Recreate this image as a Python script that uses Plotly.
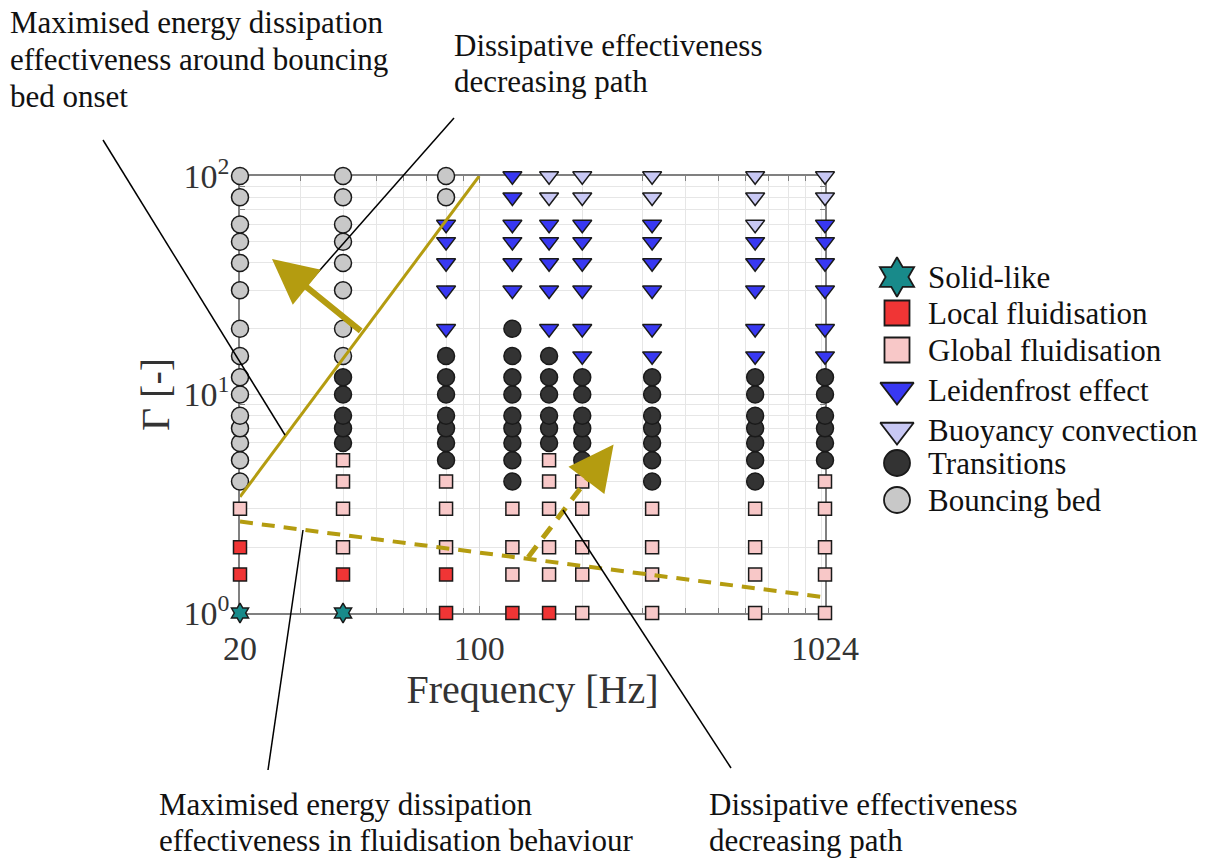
import math
import plotly.graph_objects as go

# ---------------- data ----------------
freqs = [20, 40, 80, 125, 160, 200, 320, 640, 1024]
gamma_levels = [1, 1.5, 2, 3, 4, 5, 6, 7, 8, 10, 12, 15, 20, 30, 40, 50, 60, 80, 100]
# regime code per gamma level (same order as gamma_levels), one string per frequency
regime_by_freq = {
    20:   "SLLGOOOOOOOOOOOOOOO",
    40:   "SLGGGGTTTTTOOOOOOOO",
    80:   "LLGGGTTTTTTTFFFFFOO",
    125:  "LGGGTTTTTTTTTFFFFFF",
    160:  "LGGGGGTTTTTTFFFFFBB",
    200:  "GGGGGTTTTTTFFFFFFBB",
    320:  "GGGGTTTTTTTFFFFFFBB",
    640:  "GGGGTTTTTTTFFFFFBBB",
    1024: "GGGGGTTTTTTFFFFFFBB",
}
regime_codes = ["S", "L", "G", "F", "B", "T", "O"]
regime_names = ["Solid-like", "Local fluidisation", "Global fluidisation",
                "Leidenfrost effect", "Buoyancy convection", "Transitions", "Bouncing bed"]

# boundary lines and arrows (frequency [Hz], Gamma [-])
bounce_line_f = [20, 100]
bounce_line_g = [3.4, 100]
fluid_line_f = [20, 1024]
fluid_line_g = [2.62, 1.18]
arrow1_tail = (45.5, 19.3)
arrow1_tip = (24.8, 41.7)
arrow2_tail = (139, 1.80)
arrow2_tip = (247, 5.9)

x_tick_vals = [20, 100, 1024]
x_tick_text = ["20", "100", "1024"]
y_tick_vals = [1, 10, 100]
y_tick_text = ["10<sup>0</sup>", "10<sup>1</sup>", "10<sup>2</sup>"]

# ---------------- styles / layout ----------------
FONT = "Liberation Serif, Times New Roman, serif"
OLIVE = "#B49C10"
styles = {
    "S": dict(symbol="hexagram", color="#188A8A", size=15, lsize=30),
    "L": dict(symbol="square", color="#F03535", size=13, lsize=25),
    "G": dict(symbol="square", color="#F8C8C8", size=13, lsize=25),
    "F": dict(symbol="triangle-down", color="#3838F2", size=16.5, lsize=29),
    "B": dict(symbol="triangle-down", color="#C8C8F4", size=16.5, lsize=29),
    "T": dict(symbol="circle", color="#333333", size=17, lsize=26),
    "O": dict(symbol="circle", color="#C8C8C8", size=17, lsize=26),
}

OFF = 8                      # page body margin of the html file
W, H = 1210 - OFF, 858 - OFF  # figure size
L, R, T, B = 240, 825, 176, 613  # plot area box in page pixels

# legend layout in page pixels
leg_marker_x = 897
leg_text_x = 926
leg_rows_y = [277, 313, 350, 390, 430, 463, 500]

fig = go.Figure()

for code, name in zip(regime_codes, regime_names):
    xs, ys = [], []
    for f in freqs:
        for g, c in zip(gamma_levels, regime_by_freq[f]):
            if c == code:
                xs.append(f)
                ys.append(g)
    st = styles[code]
    fig.add_trace(go.Scatter(
        x=xs, y=ys, mode="markers", name=name, cliponaxis=False, showlegend=False,
        marker=dict(symbol=st["symbol"], color=st["color"], size=st["size"],
                    line=dict(color="#1a1a1a", width=1.5)),
    ))

fig.add_trace(go.Scatter(x=bounce_line_f, y=bounce_line_g, mode="lines", showlegend=False,
                         line=dict(color=OLIVE, width=3)))
fig.add_trace(go.Scatter(x=fluid_line_f, y=fluid_line_g, mode="lines", showlegend=False,
                         line=dict(color=OLIVE, width=4, dash="13px,9px")))

# dashed arrow shaft
lx0, ly0 = math.log10(arrow2_tail[0]), math.log10(arrow2_tail[1])
lx1, ly1 = math.log10(arrow2_tip[0]), math.log10(arrow2_tip[1])
shaft_end = (10 ** (lx0 + 0.75 * (lx1 - lx0)), 10 ** (ly0 + 0.75 * (ly1 - ly0)))
fig.add_trace(go.Scatter(x=[arrow2_tail[0], shaft_end[0]], y=[arrow2_tail[1], shaft_end[1]],
                         mode="lines", showlegend=False,
                         line=dict(color=OLIVE, width=5, dash="14px,10px")))

# legend keys (drawn on a full-page overlay axis in page pixels)
for i, (code, name) in enumerate(zip(regime_codes, regime_names)):
    st = styles[code]
    fig.add_trace(go.Scatter(
        x=[leg_marker_x], y=[leg_rows_y[i]], xaxis="x2", yaxis="y2", mode="markers",
        showlegend=False, cliponaxis=False, hoverinfo="skip",
        marker=dict(symbol=st["symbol"], color=st["color"], size=st["lsize"],
                    line=dict(color="#1a1a1a", width=1.8)),
    ))

annotations = []
annotations.append(dict(
    x=math.log10(arrow1_tip[0]), y=math.log10(arrow1_tip[1]),
    ax=math.log10(arrow1_tail[0]), ay=math.log10(arrow1_tail[1]),
    xref="x", yref="y", axref="x", ayref="y", text="", showarrow=True,
    arrowhead=2, arrowsize=1.5, arrowwidth=6, arrowcolor=OLIVE))
annotations.append(dict(
    x=lx1, y=ly1,
    ax=lx0 + 0.78 * (lx1 - lx0), ay=ly0 + 0.78 * (ly1 - ly0),
    xref="x", yref="y", axref="x", ayref="y", text="", showarrow=True,
    arrowhead=2, arrowsize=1.8, arrowwidth=5, arrowcolor=OLIVE))


def text_line(s, X, Yc, size=31):
    annotations.append(dict(text=s, x=X, y=Yc, xref="x2", yref="y2",
                            xanchor="left", yanchor="middle", showarrow=False,
                            font=dict(family=FONT, size=size, color="#111111")))


text_line("Maximised energy dissipation", 8, 22)
text_line("effectiveness around bouncing", 8, 59)
text_line("bed onset", 8, 96)
text_line("Dissipative effectiveness", 452, 45)
text_line("decreasing path", 452, 81)
text_line("Maximised energy dissipation", 157, 804)
text_line("effectiveness in fluidisation behaviour", 157, 840)
text_line("Dissipative effectiveness", 707, 804)
text_line("decreasing path", 707, 840)

for i, name in enumerate(regime_names):
    text_line(name, leg_text_x, leg_rows_y[i], size=31)

shapes = []
for (X0, Y0, X1, Y1) in [(103, 140, 285, 435), (454, 118, 305, 287),
                         (268, 770, 303, 530), (563, 510, 731, 768)]:
    shapes.append(dict(type="line", xref="x2", yref="y2", x0=X0, y0=Y0, x1=X1, y1=Y1,
                       line=dict(color="black", width=1.5), layer="above"))

x_minor = [30, 40, 50, 60, 70, 80, 90, 200, 300, 400, 500, 600, 700, 800, 900, 1000]
y_minor = [2, 3, 4, 5, 6, 7, 8, 9, 20, 30, 40, 50, 60, 70, 80, 90]

axis_common = dict(
    showline=True, linecolor="#808080", linewidth=1.5, mirror="ticks",
    ticks="inside", ticklen=7, tickcolor="#808080", tickwidth=1,
    showgrid=True, gridcolor="#DCDCDC", gridwidth=1, zeroline=False,
    tickfont=dict(family=FONT, size=34, color="#333333"), layer="below traces",
)

fig.update_layout(
    width=W, height=H,
    margin=dict(l=0, r=0, t=0, b=0, autoexpand=False),
    paper_bgcolor="white", plot_bgcolor="rgba(0,0,0,0)",
    xaxis=dict(type="log", range=[math.log10(19.9999), math.log10(1024)],
               domain=[(L - OFF) / W, (R - OFF) / W], anchor="y",
               tickvals=x_tick_vals, ticktext=x_tick_text, ticklabelstandoff=4,
               title=dict(text="Frequency [Hz]", font=dict(family=FONT, size=40, color="#333333"),
                          standoff=4),
               minor=dict(tickvals=x_minor, ticks="inside", ticklen=5, tickcolor="#808080",
                          showgrid=True, gridcolor="#E6E6E6", gridwidth=1),
               **axis_common),
    yaxis=dict(type="log", range=[0, 2],
               domain=[1 - (B - OFF) / H, 1 - (T - OFF) / H], anchor="x",
               tickvals=y_tick_vals, ticktext=y_tick_text, ticklabelstandoff=2,
               title=dict(text="Γ [-]", font=dict(family=FONT, size=40, color="#333333"),
                          standoff=2),
               minor=dict(tickvals=y_minor, ticks="inside", ticklen=5, tickcolor="#808080",
                          showgrid=True, gridcolor="#E6E6E6", gridwidth=1),
               **axis_common),
    xaxis2=dict(domain=[0, 1], range=[OFF, OFF + W], anchor="y2", visible=False,
                showgrid=False, zeroline=False, fixedrange=True),
    yaxis2=dict(domain=[0, 1], range=[OFF + H, OFF], anchor="x2", visible=False,
                showgrid=False, zeroline=False, fixedrange=True),
    annotations=annotations,
    shapes=shapes,
    showlegend=False,
)

fig.write_html("out.html")
